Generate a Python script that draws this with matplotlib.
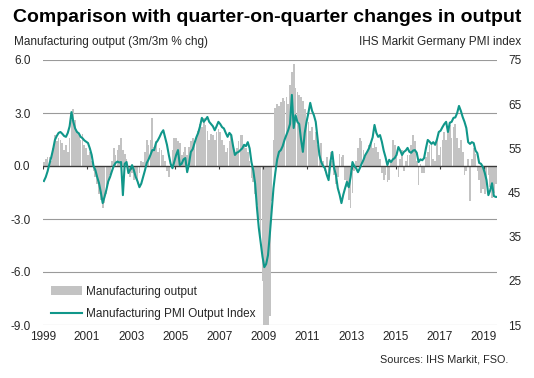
import matplotlib
matplotlib.use("Agg")
import matplotlib.pyplot as plt
import numpy as np

plt.rcParams['font.family'] = ['Liberation Sans', 'DejaVu Sans']

start_year = 1999
year_ticks = list(range(1999, 2020, 2))
left_ticks = [6.0, 3.0, 0.0, -3.0, -6.0, -9.0]
right_ticks = [15, 25, 35, 45, 55, 65, 75]

# Manufacturing output, 3m/3m % change (monthly, Jan 1999 - Aug 2019)
output_chg = [
    # 1999
    0.2, 0.4, 0.5, 0.5, 0.3, 1.0, 1.75, 1.4, 1.6, 1.5, 1.3, 0.9,
    # 2000
    1.2, 0.8, 1.6, 2.6, 3.2, 2.6, 2.0, 1.8, 1.5, 1.8, 1.2, 1.0,
    # 2001
    0.6, 0.8, 0.3, -0.3, -0.6, -1.0, -1.6, -1.9, -2.4, -2.1, -1.6, -1.0,
    # 2002
    -0.5, 0.3, 1.0, 0.6, 0.9, 1.2, 1.6, 0.9, 0.7, 0.4, -0.3, -0.6,
    # 2003
    -0.4, -0.8, -0.6, -1.0, -0.4, 0.3, 0.2, 0.8, 1.5, 1.2, 1.5, 2.7,
    # 2004
    1.1, 1.4, 0.8, 1.0, 0.9, 0.6, 0.3, -0.3, -0.6, 0.2, 0.9, 1.6,
    # 2005
    1.6, 1.4, 1.3, 0.6, 0.8, 1.1, 0.6, 1.1, 1.4, 1.6, 1.2, 1.6,
    # 2006
    2.0, 2.4, 2.2, 2.7, 2.3, 2.0, 1.5, 1.8, 1.75, 1.5, 1.9, 2.1,
    # 2007
    1.9, 1.5, 1.2, 0.8, 1.0, 1.4, 1.75, 1.2, 0.8, 1.0, 1.4, 1.75,
    # 2008
    1.75, 1.2, 1.0, 0.8, 0.3, -0.7, -0.9, -1.6, -2.2, -3.0, -4.0, -6.5,
    # 2009
    -9.0, -9.0, -9.0, -8.5, -2.0, 1.5, 3.3, 3.5, 3.4, 3.6, 3.85, 3.7,
    # 2010
    3.9, 3.5, 4.6, 5.3, 5.8, 4.4, 4.2, 4.0, 3.9, 3.7, 3.2, 2.5,
    # 2011
    2.5, 2.0, 2.2, 1.5, 1.9, 1.2, 0.9, 1.3, 0.3, -0.3, 0.5, -0.4,
    # 2012
    0.8, 0.3, -0.5, -1.0, -0.6, 0.7, 0.5, 0.6, -0.8, -1.2, -1.9, -2.4,
    # 2013
    -1.5, -0.3, 0.3, 1.0, 1.6, 1.4, 0.9, 0.5, 0.8, 1.2, 1.3, 1.0,
    # 2014
    1.3, 1.1, 0.8, 0.4, -0.4, -0.8, -0.5, -0.9, -0.8, 0.2, 1.5, 1.2,
    # 2015
    0.5, -0.6, 0.4, 0.9, -0.3, 0.3, 0.6, 0.6, 1.2, 1.75, 1.4, 0.3,
    # 2016
    -1.1, 0.1, -0.4, -0.4, 0.5, 0.8, 1.2, 1.2, 0.4, 0.3, 1.5, 0.6,
    # 2017
    1.1, 1.5, 1.9, 1.5, 1.9, 2.3, 1.6, 2.2, 2.4, 1.6, 1.0, 1.5,
    # 2018
    0.8, -0.5, -0.3, 0.4, -2.0, 0.4, 1.0, 0.7, -0.3, -0.8, -1.5, -1.3,
    # 2019
    -1.6, -1.0, -0.5, -1.2, -1.8, -1.5, -1.0, -1.6,
]

# Manufacturing PMI Output Index (monthly, Jan 1999 - Aug 2019)
pmi_output = [
    # 1999
    47.6, 48.5, 49.8, 51.5, 53.0, 54.8, 56.9, 57.8, 58.5, 58.7, 58.3, 57.8,
    # 2000
    57.6, 58.5, 60.0, 63.2, 61.0, 59.5, 58.7, 58.4, 57.6, 57.3, 56.8, 56.5,
    # 2001
    56.2, 55.0, 53.5, 51.0, 50.1, 48.5, 47.1, 45.0, 42.6, 44.0, 45.6, 47.5,
    # 2002
    48.5, 49.8, 51.0, 51.7, 52.0, 51.8, 51.9, 44.4, 51.5, 51.9, 49.4, 50.2,
    # 2003
    51.2, 50.0, 48.5, 47.5, 46.2, 47.0, 48.5, 50.0, 51.7, 52.5, 53.5, 54.6,
    # 2004
    54.6, 56.2, 56.8, 57.6, 58.5, 59.1, 57.5, 55.8, 53.5, 51.5, 50.5, 52.0,
    # 2005
    53.5, 54.6, 51.2, 51.5, 52.5, 52.8, 49.6, 51.5, 54.2, 54.8, 56.2, 57.5,
    # 2006
    58.5, 60.0, 61.9, 61.0, 61.5, 62.1, 61.0, 60.5, 60.0, 59.1, 60.0, 61.0,
    # 2007
    60.5, 59.8, 59.5, 58.5, 57.6, 58.5, 58.0, 55.5, 53.5, 54.0, 54.2, 54.6,
    # 2008
    55.0, 55.8, 55.5, 56.4, 55.0, 51.9, 50.0, 47.0, 41.5, 37.0, 33.8, 30.5,
    # 2009
    28.1, 28.8, 30.8, 35.5, 40.6, 46.0, 49.5, 52.5, 54.2, 54.6, 55.5, 56.9,
    # 2010
    58.0, 59.1, 60.5, 67.1, 59.6, 62.5, 61.0, 60.5, 57.0, 54.2, 58.5, 61.0,
    # 2011
    63.0, 65.3, 63.5, 62.5, 61.0, 57.3, 53.5, 51.9, 51.0, 50.5, 49.0, 47.8,
    # 2012
    52.0, 54.2, 50.5, 49.0, 46.0, 44.5, 42.6, 44.5, 46.0, 47.4, 46.2, 48.5,
    # 2013
    51.9, 51.0, 50.5, 49.6, 50.5, 51.5, 52.4, 53.5, 54.2, 55.0, 56.2, 57.5,
    # 2014
    60.3, 58.5, 57.6, 58.0, 56.5, 54.5, 53.0, 51.2, 52.4, 51.9, 52.5, 52.8,
    # 2015
    53.5, 55.3, 54.5, 53.5, 54.2, 54.5, 55.1, 54.2, 54.0, 54.5, 54.6, 54.0,
    # 2016
    51.9, 52.5, 52.3, 52.8, 55.0, 56.9, 56.5, 56.0, 56.4, 55.8, 57.0, 58.7,
    # 2017
    59.0, 59.8, 60.5, 61.0, 58.7, 60.8, 61.0, 61.9, 62.0, 63.0, 64.6, 63.5,
    # 2018
    62.1, 61.0, 59.6, 56.4, 56.0, 56.4, 56.2, 54.5, 53.9, 51.7, 51.5, 50.8,
    # 2019
    49.5, 47.8, 44.4, 45.5, 47.1, 44.2, 44.0, 44.0,
]

months = start_year + (np.arange(len(output_chg)) + 0.5) / 12.0

fig = plt.figure(figsize=(5.34, 3.78), dpi=100)
ax = fig.add_axes([43/534, 1 - 325/378, (497 - 43)/534, (325 - 60)/378])
ax2 = ax.twinx()

ax.bar(months, output_chg, width=1/12 * 0.92, color='#c3c3c3', linewidth=0,
       label='Manufacturing output', zorder=2)
ln, = ax2.plot(months, pmi_output, color='#10978a', linewidth=1.5,
               label='Manufacturing PMI Output Index', zorder=3)

ax.set_xlim(1999.0, 2019.6)
ax.set_ylim(-9.0, 6.0)
ax2.set_ylim(15, 75)

for v in left_ticks:
    if v == 0:
        continue
    ax.axhline(v, color='#9a9a9a', linewidth=0.8, zorder=1)
ax.axhline(0, color='#3a3a3a', linewidth=1.0, zorder=4)
# small tick marks on the zero line
ax.vlines(year_ticks, -0.17, 0, color='#3a3a3a', linewidth=0.8, zorder=4)

ax.set_yticks(left_ticks)
ax.set_yticklabels([f"{v:.1f}" for v in left_ticks])
ax2.set_yticks(right_ticks)
ax2.set_yticklabels([str(v) for v in right_ticks])
ax.set_xticks(year_ticks)
ax.set_xticklabels([str(y) for y in year_ticks])

ax.tick_params(axis='y', length=0, pad=9, labelsize=8.5, labelcolor='#262626')
ax2.tick_params(axis='y', length=0, pad=8, labelsize=8.5, labelcolor='#262626')
ax.tick_params(axis='x', length=0, pad=4, labelsize=8.5, labelcolor='#262626')

for a in (ax, ax2):
    for s in a.spines.values():
        s.set_visible(False)
ax.set_zorder(ax2.get_zorder() - 1)
ax.patch.set_visible(False)
ax2.patch.set_visible(False)

fig.text(13/534, 1 - 18/378, 'Comparison with quarter-on-quarter changes in output',
         ha='left', va='center', fontsize=14, fontweight='bold', color='#000000')
fig.text(14/534, 1 - 42/378, 'Manufacturing output (3m/3m % chg)',
         ha='left', va='center', fontsize=8.5, color='#262626')
fig.text(521/534, 1 - 42/378, 'IHS Markit Germany PMI index',
         ha='right', va='center', fontsize=8.5, color='#262626')
fig.text(508/534, 1 - 359/378, 'Sources: IHS Markit, FSO.',
         ha='right', va='center', fontsize=7.8, color='#262626')

bars_handle = ax.containers[0]
leg = ax.legend([bars_handle, ln], ['Manufacturing output', 'Manufacturing PMI Output Index'],
                loc='upper left', bbox_to_anchor=(0.0, 0.18), frameon=False,
                fontsize=8.5, handlelength=2.6, handleheight=0.9, labelspacing=0.9,
                handletextpad=0.3, borderaxespad=0.3)
for t in leg.get_texts():
    t.set_color('#262626')

fig.savefig('out.png', dpi=100)
